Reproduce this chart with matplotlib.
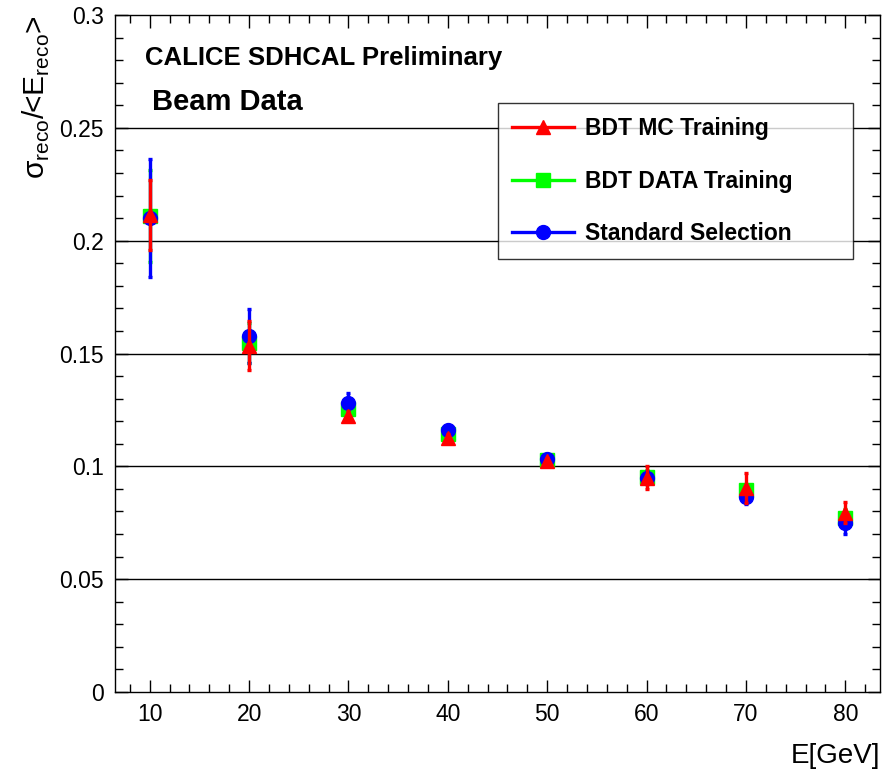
import matplotlib
matplotlib.use("Agg")
import matplotlib.pyplot as plt
from matplotlib.lines import Line2D
from matplotlib.ticker import MultipleLocator

plt.rcParams['font.family'] = ['Liberation Sans', 'DejaVu Sans']

energy = [10, 20, 30, 40, 50, 60, 70, 80]

# BDT MC Training (red triangles)
mc_res = [0.2115, 0.1535, 0.1225, 0.1125, 0.1025, 0.0950, 0.0903, 0.0795]
mc_err = [0.0155, 0.0110, 0.0020, 0.0020, 0.0010, 0.0050, 0.0067, 0.0048]

# BDT DATA Training (green squares)
data_res = [0.2110, 0.1546, 0.1255, 0.1145, 0.1030, 0.0952, 0.0893, 0.0772]
data_err = [0.0205, 0.0090, 0.0030, 0.0020, 0.0010, 0.0030, 0.0030, 0.0040]

# Standard Selection (blue circles)
std_res = [0.2100, 0.1578, 0.1280, 0.1160, 0.1033, 0.0950, 0.0864, 0.0750]
std_err = [0.0260, 0.0120, 0.0045, 0.0020, 0.0010, 0.0030, 0.0030, 0.0052]

labels = ['BDT MC Training', 'BDT DATA Training', 'Standard Selection']
colors = ['#ff0000', '#00ff00', '#0000ff']
markers = ['^', 's', 'o']

fig = plt.figure(figsize=(8.91, 7.70), dpi=100)
ax = fig.add_axes([0.129, 0.1013, 0.8587, 0.8792])

# horizontal grid lines at the major y ticks
for yv in [0.05, 0.1, 0.15, 0.2, 0.25]:
    ax.axhline(yv, color='black', lw=1.0, zorder=1)

# draw order: green, blue, red
ax.errorbar(energy, data_res, yerr=data_err, fmt='s', color=colors[1],
            ms=10, elinewidth=2.4, capsize=1.5, capthick=2.4, zorder=3)
ax.errorbar(energy, std_res, yerr=std_err, fmt='o', color=colors[2],
            ms=10, elinewidth=2.4, capsize=1.5, capthick=2.4, zorder=4)
ax.errorbar(energy, mc_res, yerr=mc_err, fmt='^', color=colors[0],
            ms=10, elinewidth=2.4, capsize=1.5, capthick=2.4, zorder=5)

ax.set_xlim(6.5, 83.5)
ax.set_ylim(0, 0.3)
ax.xaxis.set_major_locator(MultipleLocator(10))
ax.xaxis.set_minor_locator(MultipleLocator(2))
ax.yaxis.set_minor_locator(MultipleLocator(0.01))
ax.set_yticks([0, 0.05, 0.1, 0.15, 0.2, 0.25, 0.3])
ax.set_yticklabels(['0', '0.05', '0.1', '0.15', '0.2', '0.25', '0.3'])

ax.tick_params(which='both', direction='in', top=True, right=True,
               labelsize=16.5, width=1)
ax.tick_params(which='major', length=9, pad=8)
ax.tick_params(which='minor', length=6)
for sp in ax.spines.values():
    sp.set_linewidth(1)

ax.set_xlabel('E[GeV]', fontsize=20, loc='right', labelpad=12)
ax.set_ylabel('\u03c3$_{\\mathregular{reco}}$/<E$_{\\mathregular{reco}}$>',
              fontsize=21.5, loc='top', labelpad=5)

ax.text(0.039, 0.937, 'CALICE SDHCAL Preliminary', transform=ax.transAxes,
        fontsize=18.5, fontweight='bold', va='center', ha='left')
ax.text(0.049, 0.872, 'Beam Data', transform=ax.transAxes,
        fontsize=21, fontweight='bold', va='center', ha='left')

handles = [Line2D([], [], color=c, marker=m, ms=10, lw=2.4)
           for c, m in zip(colors, markers)]
leg = ax.legend(handles, labels, loc='upper left', mode='expand',
                bbox_to_anchor=(0.5007, 0.638, 0.4640, 0.232),
                prop={'weight': 'bold', 'size': 16.5},
                frameon=True, fancybox=False, edgecolor='black',
                handlelength=2.7, labelspacing=1.3, borderpad=0.6,
                handletextpad=0.5, borderaxespad=0)
leg.get_frame().set_linewidth(1.0)

fig.savefig('out.png', dpi=100)
